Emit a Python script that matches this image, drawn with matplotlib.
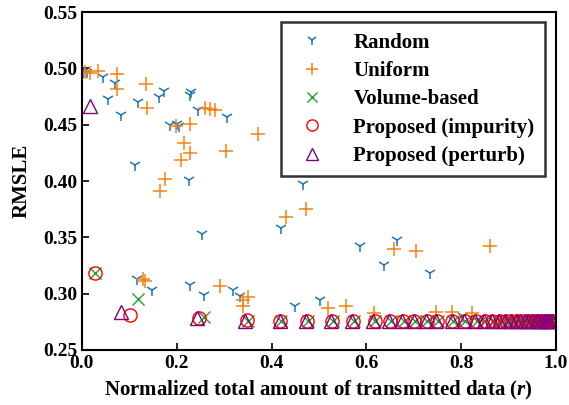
import matplotlib
matplotlib.use("Agg")
import matplotlib.pyplot as plt

plt.rcParams['font.family'] = ['Liberation Serif', 'DejaVu Serif']
plt.rcParams['font.weight'] = 'bold'
plt.rcParams['mathtext.fontset'] = 'custom'
plt.rcParams['mathtext.it'] = 'Liberation Serif:italic:bold'
plt.rcParams['mathtext.rm'] = 'Liberation Serif:bold'

# Random
random_r = [0.003, 0.010, 0.045, 0.070, 0.056, 0.082, 0.119, 0.112, 0.162, 0.173,
            0.228, 0.231, 0.245, 0.186, 0.200, 0.204, 0.226, 0.307, 0.467, 0.421,
            0.254, 0.117, 0.147, 0.228, 0.257, 0.319, 0.333, 0.449, 0.502, 0.586,
            0.664, 0.637, 0.734, 0.804, 0.840, 0.870, 0.900, 0.930, 0.960, 0.990]
random_rmsle = [0.497, 0.497, 0.492, 0.487, 0.473, 0.459, 0.470, 0.414, 0.475, 0.480,
                0.476, 0.479, 0.463, 0.450, 0.451, 0.449, 0.401, 0.457, 0.397, 0.358,
                0.353, 0.313, 0.303, 0.308, 0.299, 0.303, 0.298, 0.289, 0.294, 0.342,
                0.348, 0.325, 0.318, 0.280, 0.276, 0.276, 0.276, 0.276, 0.276, 0.276]

# Uniform
uniform_r = [0.006, 0.017, 0.034, 0.075, 0.073, 0.136, 0.138, 0.198, 0.228, 0.259,
             0.270, 0.281, 0.372, 0.215, 0.228, 0.210, 0.303, 0.175, 0.165, 0.430,
             0.473, 0.128, 0.133, 0.291, 0.351, 0.340, 0.340, 0.520, 0.658, 0.704,
             0.861, 0.558, 0.616, 0.748, 0.780, 0.822, 0.880, 0.920, 0.950, 0.980]
uniform_rmsle = [0.497, 0.496, 0.498, 0.495, 0.482, 0.486, 0.465, 0.449, 0.451, 0.465,
                 0.464, 0.463, 0.442, 0.434, 0.425, 0.419, 0.427, 0.402, 0.391, 0.368,
                 0.375, 0.313, 0.311, 0.307, 0.297, 0.294, 0.289, 0.287, 0.340, 0.338,
                 0.342, 0.289, 0.283, 0.284, 0.284, 0.283, 0.276, 0.276, 0.276, 0.276]

# Volume-based
volume_r = [0.027, 0.118, 0.257, 0.350, 0.420, 0.476, 0.529, 0.574, 0.619, 0.652,
            0.680, 0.703, 0.729, 0.751, 0.783, 0.809, 0.833, 0.851, 0.868, 0.883,
            0.896, 0.908, 0.918, 0.928, 0.937, 0.945, 0.953, 0.960, 0.966, 0.972,
            0.977, 0.982, 0.986, 0.990]
volume_rmsle = [0.318, 0.295, 0.279, 0.276, 0.276, 0.276, 0.276, 0.276, 0.276, 0.276,
                0.276, 0.276, 0.276, 0.276, 0.276, 0.276, 0.276, 0.276, 0.276, 0.276,
                0.276, 0.276, 0.276, 0.276, 0.276, 0.276, 0.276, 0.276, 0.276, 0.276,
                0.276, 0.276, 0.276, 0.276]

# Proposed (impurity)
impurity_r = [0.027, 0.102, 0.247, 0.348, 0.418, 0.474, 0.527, 0.572, 0.618, 0.650,
              0.678, 0.701, 0.727, 0.749, 0.781, 0.808, 0.832, 0.850, 0.866, 0.881,
              0.894, 0.906, 0.917, 0.927, 0.936, 0.944, 0.951, 0.958, 0.964, 0.970,
              0.975, 0.980, 0.985, 0.989, 0.993]
impurity_rmsle = [0.318, 0.281, 0.278, 0.277, 0.276, 0.276, 0.276, 0.276, 0.276, 0.276,
                  0.276, 0.276, 0.276, 0.276, 0.276, 0.276, 0.276, 0.276, 0.276, 0.276,
                  0.276, 0.276, 0.276, 0.276, 0.276, 0.276, 0.276, 0.276, 0.276, 0.276,
                  0.276, 0.276, 0.276, 0.276, 0.276]

# Proposed (perturb)
perturb_r = [0.017, 0.083, 0.243, 0.345, 0.417, 0.472, 0.525, 0.570, 0.615, 0.648,
             0.676, 0.700, 0.725, 0.747, 0.780, 0.806, 0.830, 0.848, 0.865, 0.880,
             0.893, 0.905, 0.915, 0.925, 0.934, 0.942, 0.950, 0.957, 0.963, 0.969,
             0.974, 0.979, 0.983, 0.987, 0.991]
perturb_rmsle = [0.467, 0.284, 0.278, 0.276, 0.276, 0.276, 0.276, 0.276, 0.276, 0.276,
                 0.276, 0.276, 0.276, 0.276, 0.276, 0.276, 0.276, 0.276, 0.276, 0.276,
                 0.276, 0.276, 0.276, 0.276, 0.276, 0.276, 0.276, 0.276, 0.276, 0.276,
                 0.276, 0.276, 0.276, 0.276, 0.276]

fig = plt.figure(figsize=(5.69, 4.05), dpi=100)
ax = fig.add_axes([0.144, 0.136, 0.833, 0.834])

ax.plot(random_r, random_rmsle, ls='none', marker='1', ms=8.5, mew=1.1,
        color='tab:blue', label='Random')
ax.plot(uniform_r, uniform_rmsle, ls='none', marker='+', ms=10, mew=1.1,
        color='tab:orange', label='Uniform')
ax.plot(volume_r, volume_rmsle, ls='none', marker='x', ms=9, mew=1.0,
        color='tab:green', label='Volume-based')
ax.plot(impurity_r, impurity_rmsle, ls='none', marker='o', ms=9.5, mew=1.0,
        mfc='none', color='red', label='Proposed (impurity)')
ax.plot(perturb_r, perturb_rmsle, ls='none', marker='^', ms=9.5, mew=1.0,
        mfc='none', color='purple', label='Proposed (perturb)')

ax.set_xlim(0.0, 1.0)
ax.set_ylim(0.25, 0.55)
ax.set_xticks([0.0, 0.2, 0.4, 0.6, 0.8, 1.0])
ax.set_yticks([0.25, 0.30, 0.35, 0.40, 0.45, 0.50, 0.55])
ax.set_yticklabels(['0.25', '0.30', '0.35', '0.40', '0.45', '0.50', '0.55'])
ax.tick_params(direction='in', length=5, width=1.2, labelsize=14)
for sp in ax.spines.values():
    sp.set_linewidth(1.5)

ax.set_xlabel(r'Normalized total amount of transmitted data ($\mathit{r}$)',
              fontsize=15, fontweight='bold', labelpad=5)
ax.set_ylabel('RMSLE', fontsize=15, fontweight='bold', labelpad=8)

leg = ax.legend(loc='upper right', bbox_to_anchor=(0.977, 0.970), borderaxespad=0,
                prop={'weight': 'bold', 'size': 15}, fancybox=False,
                edgecolor='#333333', framealpha=1, borderpad=0.5,
                labelspacing=0.4, handletextpad=1.0, markerscale=0.85)
leg.get_frame().set_linewidth(1.8)

fig.savefig('out.png', dpi=100)
